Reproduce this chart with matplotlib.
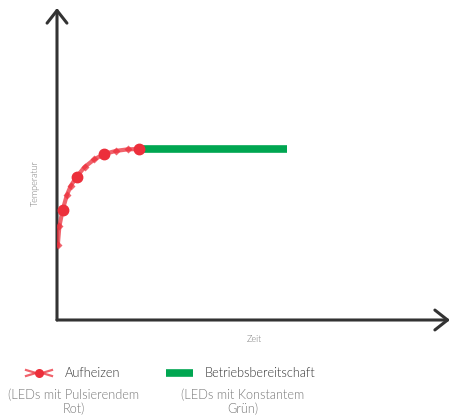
import matplotlib.pyplot as plt
from matplotlib.lines import Line2D

plt.rcParams['font.family'] = ['Lato', 'DejaVu Sans']

# heating curve (red, pulsing) and standby (green)
heat_time = [0.2, 0.6, 1.45, 2.5, 3.5, 5.0, 7.0, 9.5, 12.0, 15.0, 18.0, 20.9]
heat_temp = [24.0, 30.0, 35.3, 40.0, 43.0, 45.9, 49.0, 51.5, 53.2, 54.2, 54.7, 54.8]
big_idx = [2, 5, 8, 11]
ready_time = [20.9, 58.5]
ready_temp = [54.8, 54.8]

labels = ['Aufheizen', 'Betriebsbereitschaft']
sublabels = ['(LEDs mit Pulsierendem\nRot)', '(LEDs mit Konstantem\nGrün)']
red = '#ec2f3b'
green = '#00a651'

fig = plt.figure(figsize=(4.53, 4.16), dpi=100)
ax = fig.add_axes([57 / 453, 96 / 416, 393 / 453, 312 / 416])
ax.set_xlim(0, 100)
ax.set_ylim(0, 100)
ax.axis('off')

# axes as arrows
arr = dict(arrowstyle='->,head_length=0.7,head_width=0.55', color='#333333',
           lw=2.2, mutation_scale=13, shrinkA=0, shrinkB=0)
ax.annotate('', xy=(0, 1.0), xytext=(0, 0), xycoords='axes fraction',
            arrowprops=arr, annotation_clip=False)
ax.annotate('', xy=(1.0, 0), xytext=(0, 0), xycoords='axes fraction',
            arrowprops=arr, annotation_clip=False)

ax.plot(ready_time, ready_temp, color=green, lw=5.5, solid_capstyle='butt', zorder=3)
ax.plot(heat_time, heat_temp, color=red, lw=3, alpha=0.75, zorder=4,
        marker='D', ms=4.5, mec='none', mfc=red)
ax.plot([heat_time[i] for i in big_idx], [heat_temp[i] for i in big_idx],
        'o', color=red, ms=7.5, zorder=5)

ax.text(-0.055, 0.44, 'Temperatur', transform=ax.transAxes, rotation=90,
        ha='center', va='center', fontsize=6.5, color='#777777', fontweight=300)
ax.text(0.503, -0.062, 'Zeit', transform=ax.transAxes,
        ha='center', va='center', fontsize=6.5, color='#777777', fontweight=300)

# legend drawn by hand
tf = fig.transFigure
W, H = 453, 416
for xs, ys in [([26, 36], [370, 373]), ([26, 36], [376, 373]),
               ([42, 52], [373, 370]), ([42, 52], [373, 376])]:
    fig.add_artist(Line2D([x / W for x in xs], [1 - y / H for y in ys], color=red,
                          lw=1.6, alpha=0.75, transform=tf))
fig.add_artist(Line2D([39 / W], [1 - 373 / H], color=red, marker='o', ms=6.5,
                      mec='none', transform=tf))
fig.add_artist(Line2D([166 / W, 193 / W], [43 / H, 43 / H], color=green,
                      lw=5.5, solid_capstyle='butt', transform=tf))
fig.text(65 / W, 43 / H, labels[0], fontsize=9.2, color='#333333', va='center',
         fontweight=300)
fig.text(205 / W, 43 / H, labels[1], fontsize=9.2, color='#333333', va='center',
         fontweight=300)
fig.text(74 / W, 27 / H, sublabels[0], fontsize=9.2, color='#777777',
         ha='center', va='top', linespacing=1.1, fontweight=300)
fig.text(243 / W, 27 / H, sublabels[1], fontsize=9.2, color='#777777',
         ha='center', va='top', linespacing=1.1, fontweight=300)

fig.savefig('out.png', dpi=100)
